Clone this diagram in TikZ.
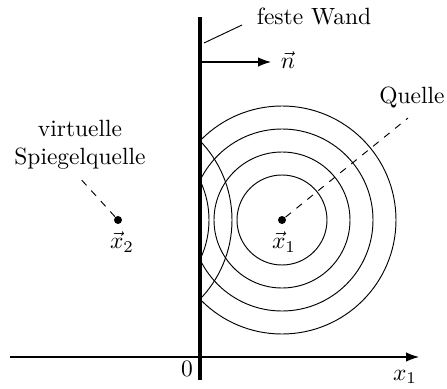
\documentclass[tikz,border=0pt]{standalone}
\usetikzlibrary{arrows.meta}
\begin{document}
\begin{tikzpicture}[x=0.4255pt,y=-0.4255pt,
  lbl/.style={inner sep=0pt,font=\fontsize{10}{12}\selectfont},
  dot/.style={circle,fill=black,inner sep=0pt,minimum size=3.4pt},
  wave/.style={line width=0.4pt},
  guide/.style={dashed,line width=0.4pt},
  arr/.style={-{Latex[length=5.5pt,width=4pt]},line width=0.5pt}]
\useasboundingbox (0,0) rectangle (447,388);
% axis
\coordinate (axL) at (10,357);
\coordinate (axR) at (419,357);
\draw[arr] (axL) -- (axR);
% waves
\node[dot] (x1) at (282,220) {};
\node[dot] (x2) at (118,220) {};
\begin{scope}
\clip (200,0) rectangle (447,388);
\foreach \r in {45,68,91,114} \draw[wave] (x1.center) circle[radius=\r];
\foreach \r in {91,114} \draw[wave] (x2.center) circle[radius=\r];
\end{scope}
% wall
\coordinate (wtop) at (200,17);
\coordinate (wbot) at (200,380);
\draw[line width=2.1pt] (wtop) -- (wbot);
% normal
\coordinate (nstart) at (200,62);
\coordinate (nend) at (271,62);
\draw[arr] (nstart) -- (nend);
\node[lbl] (n) at (288,60) {$\vec n$};
% labels
\node[lbl] (wand) at (314,16) {feste Wand};
\coordinate (wa) at (204,43);
\coordinate (wb) at (242,25);
\draw[line width=0.4pt] (wa) -- (wb);
\node[lbl] (quelle) at (412,97) {Quelle};
\coordinate (qend) at (408,118);
\draw[guide] (x1) -- (qend);
\node[lbl,align=center] (spiegel) at (80,145) {virtuelle\\Spiegelquelle};
\coordinate (send) at (78,176);
\draw[guide] (x2) -- (send);
\node[lbl] (lx1) at (284,242) {$\vec x_1$};
\node[lbl] (lx2) at (122,242) {$\vec x_2$};
\node[lbl] (zero) at (187,369) {$0$};
\node[lbl] (axlbl) at (405,377) {$x_1$};
\end{tikzpicture}
\end{document}
